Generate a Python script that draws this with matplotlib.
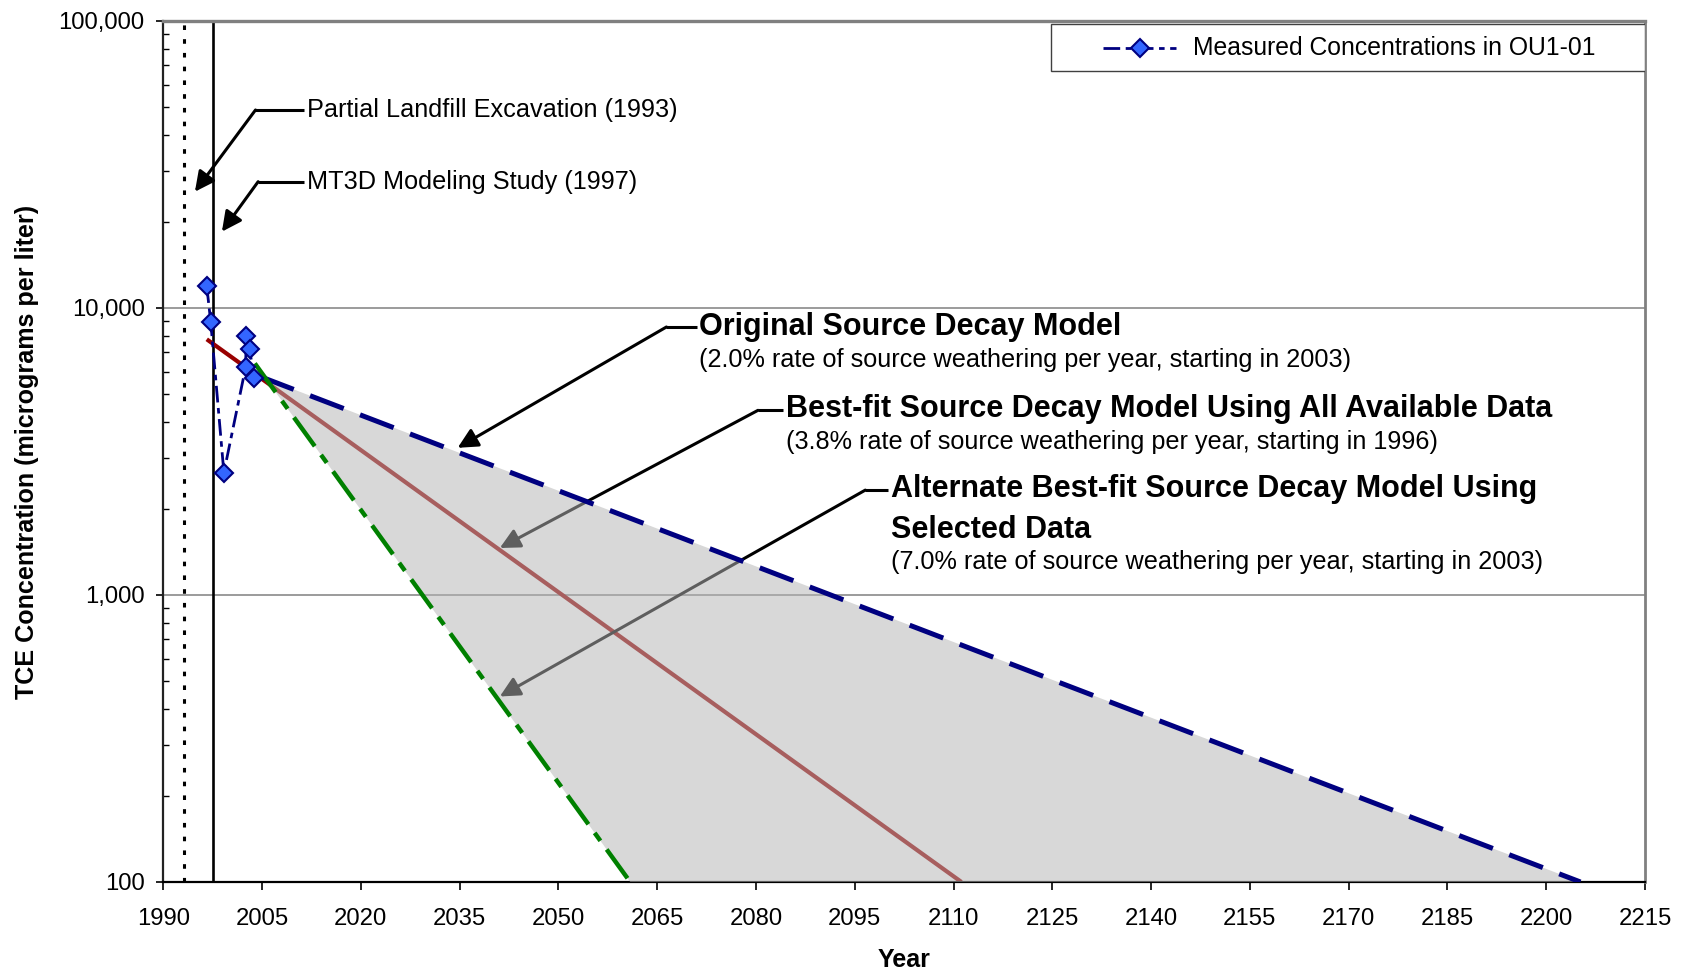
import matplotlib
matplotlib.use("Agg")
import matplotlib.pyplot as plt
from matplotlib.ticker import FixedLocator, FuncFormatter, LogLocator, NullFormatter
from matplotlib.patches import Rectangle
from matplotlib.lines import Line2D

plt.rcParams['font.family'] = ['Liberation Sans', 'DejaVu Sans']

# Measured TCE concentrations in OU1-01 (micrograms per liter)
meas_year = [1996.6, 1997.2, 1999.2, 2002.5, 2002.6, 2003.1, 2003.8]
meas_conc = [11900, 8960, 2670, 6210, 7990, 7180, 5690]

# Source decay models (first-order decay: straight lines on the log axis)
orig_year = [2004.7, 2205.2]      # 2.0 %/yr, starting 2003
orig_conc = [5770, 100]
best_year = [1996.6, 2111.2]      # 3.8 %/yr, starting 1996
best_conc = [7780, 100]
alt_year = [2003.9, 2060.9]       # 7.0 %/yr, starting 2003
alt_conc = [6410, 100]

# Site history events
excavation_year = 1993.2
mt3d_year = 1997.6

x_ticks = list(range(1990, 2216, 15))
y_ticks = [100, 1000, 10000, 100000]

NAVY = '#000080'
GREEN = '#008000'
DARKRED = '#990000'

fig = plt.figure(figsize=(16.88, 9.74), dpi=100)
ax = fig.add_axes([0.09674, 0.09446, 0.87779, 0.88398])

ax.set_yscale('log')
ax.set_xlim(1990, 2215)
ax.set_ylim(100, 100000)

# axes frame
for side, col, lw in [('left', '#222222', 1.6), ('bottom', 'black', 1.6),
                      ('top', '#808080', 2.4), ('right', '#808080', 2.0)]:
    ax.spines[side].set_color(col)
    ax.spines[side].set_linewidth(lw)

ax.xaxis.set_major_locator(FixedLocator(x_ticks))
ax.yaxis.set_major_locator(FixedLocator(y_ticks))
ax.yaxis.set_minor_locator(LogLocator(base=10, subs=range(2, 10)))
ax.yaxis.set_minor_formatter(NullFormatter())
ax.yaxis.set_major_formatter(FuncFormatter(lambda v, p: f'{v:,.0f}'))
ax.tick_params(axis='x', which='major', direction='out', length=6, width=1.2,
               labelsize=17.2, pad=13)
ax.tick_params(axis='y', which='major', direction='out', length=5, width=1.2,
               labelsize=17.2, pad=8.5)
ax.tick_params(axis='y', which='minor', direction='in', length=4, width=1.0)

ax.grid(True, axis='y', which='major', color='#808080', lw=1.1)
ax.set_axisbelow(True)

ax.set_xlabel('Year', fontsize=18, fontweight='bold', va='center')
ax.xaxis.set_label_coords(0.5, -0.0906)
ax.set_ylabel('TCE Concentration (micrograms per liter)', fontsize=18.1,
              fontweight='bold', va='center')
ax.yaxis.set_label_coords(-0.092, 0.5)

# event lines
ax.axvline(excavation_year, color='black', lw=2.2, linestyle=(0, (1.5, 3.0)), zorder=2)
ax.axvline(mt3d_year, color='black', lw=1.9, zorder=2)

# decay models
ax.plot(best_year, best_conc, color=DARKRED, lw=3.0, solid_capstyle='butt', zorder=2)

# annotations (leaders under the shaded envelope)
def leader(text_xy, elbow_x, tip_xy, start_x, color='black'):
    ax.plot([start_x, elbow_x], [text_xy[1], text_xy[1]], color=color, lw=2.2,
            solid_capstyle='butt', zorder=2.5)
    ax.annotate('', xy=tip_xy, xytext=(elbow_x, text_xy[1]),
                arrowprops=dict(arrowstyle='-|>,head_length=0.6,head_width=0.3',
                                color=color, lw=2.2, shrinkA=0, shrinkB=0,
                                mutation_scale=20),
                zorder=2.5)

ax.text(2011.8, 48970, 'Partial Landfill Excavation (1993)', fontsize=18.2,
        va='center', ha='left')
leader((2011.8, 48970), 2004.0, (1994.8, 25420), 2011.3)

ax.text(2011.8, 27550, 'MT3D Modeling Study (1997)', fontsize=18.2,
        va='center', ha='left')
leader((2011.8, 27550), 2004.4, (1998.9, 18450), 2011.3)

ax.text(2071.4, 8587, 'Original Source Decay Model', fontsize=22,
        fontweight='bold', va='center', ha='left')
ax.text(2071.4, 6590, '(2.0% rate of source weathering per year, starting in 2003)',
        fontsize=18.2, va='center', ha='left')
leader((2071.4, 8587), 2066.4, (2034.7, 3257), 2071.0)

ax.text(2084.6, 4433, 'Best-fit Source Decay Model Using All Available Data',
        fontsize=22, fontweight='bold', va='center', ha='left')
ax.text(2084.6, 3400, '(3.8% rate of source weathering per year, starting in 1996)',
        fontsize=18.2, va='center', ha='left')
leader((2084.6, 4400), 2080.3, (2041.1, 1458), 2084.1)

ax.text(2100.5, 2340, 'Alternate Best-fit Source Decay Model Using',
        fontsize=22, fontweight='bold', va='center', ha='left')
ax.text(2100.5, 1691, 'Selected Data', fontsize=22, fontweight='bold',
        va='center', ha='left')
ax.text(2100.5, 1301, '(7.0% rate of source weathering per year, starting in 2003)',
        fontsize=18.2, va='center', ha='left')
leader((2100.5, 2320), 2096.6, (2041.1, 443), 2100.0)

# shaded envelope between the slowest and fastest decay models
env_x = [alt_year[0], orig_year[0], orig_year[1], alt_year[1]]
env_y = [alt_conc[0], orig_conc[0], orig_conc[1], alt_conc[1]]
ax.fill(env_x, env_y, color='#b5b5b5', alpha=0.52, lw=0, zorder=3)

ax.plot(orig_year, orig_conc, color=NAVY, lw=3.6, linestyle=(0, (7.2, 3.5)), zorder=4)
ax.plot(alt_year, alt_conc, color=GREEN, lw=3.2,
        linestyle=(0, (8.0, 2.4, 2.2, 2.4)), zorder=4)

# measured data
meas_style = dict(color=NAVY, lw=2.0, linestyle=(0, (6, 2, 2, 2)), marker='D',
                  markersize=9, markerfacecolor='#3366FF', markeredgecolor=NAVY,
                  markeredgewidth=1.5)
ax.plot(meas_year, meas_conc, zorder=5, clip_on=False, **meas_style)

# legend box
ax.add_patch(Rectangle((0.5991, 0.9419), 0.4009, 0.0546, transform=ax.transAxes,
                       facecolor='white', edgecolor='#404040', lw=1.0, zorder=6))
ax.add_line(Line2D([0.6342, 0.6590, 0.6835], [0.9692] * 3, transform=ax.transAxes,
                   markevery=[1], zorder=7, **meas_style))
ax.text(0.6949, 0.9692, 'Measured Concentrations in OU1-01', transform=ax.transAxes,
        fontsize=17.8, va='center', ha='left', zorder=7)

fig.savefig('out.png', dpi=100)
